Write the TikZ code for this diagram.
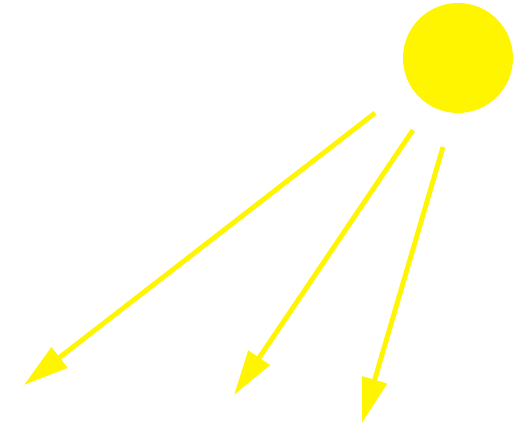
\documentclass[tikz,border=0pt]{standalone}
\usepackage{tikz}
\usetikzlibrary{arrows.meta}
\definecolor{sunyellow}{RGB}{255,245,0}

\begin{document}
\begin{tikzpicture}[
    sun/.style={circle, fill=sunyellow, minimum size=2.2cm, inner sep=0pt},
    ray/.style={draw=sunyellow, line width=2.8pt,
                -{Triangle[length=0.9cm, width=0.5cm]}}
  ]
  \useasboundingbox (0,0) rectangle (10.58,8.56);

  % Sun
  \node[sun] (sun) at (9.16,7.40) {};

  % Ray ends
  \coordinate (r1a) at (7.50,6.30);
  \coordinate (r1b) at (0.48,0.86);
  \coordinate (r2a) at (8.26,5.96);
  \coordinate (r2b) at (4.68,0.66);
  \coordinate (r3a) at (8.86,5.62);
  \coordinate (r3b) at (7.24,0.10);

  % Rays
  \draw[ray] (r1a) -- (r1b);
  \draw[ray] (r2a) -- (r2b);
  \draw[ray] (r3a) -- (r3b);
\end{tikzpicture}
\end{document}
